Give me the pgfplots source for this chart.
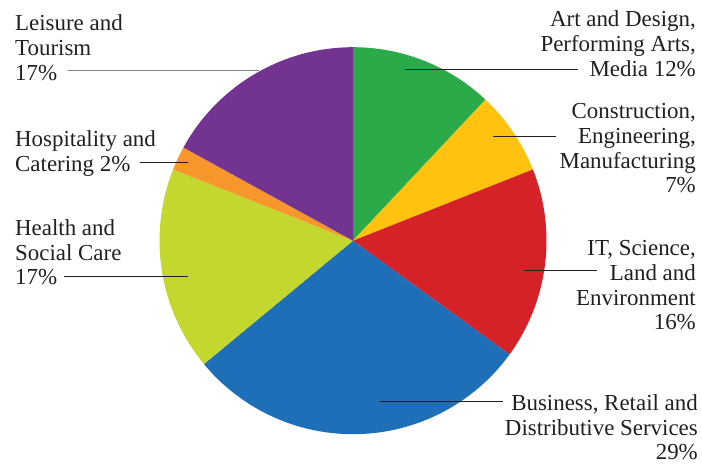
\documentclass[border=0pt]{standalone}
\usepackage{pgfplots}
\usepackage{pgfplotstable}
\usepackage{fontspec}
\setmainfont{Liberation Serif}
\pgfplotsset{compat=1.18}

\definecolor{cArt}{RGB}{43,170,74}
\definecolor{cCon}{RGB}{255,194,14}
\definecolor{cIT}{RGB}{213,34,41}
\definecolor{cBus}{RGB}{31,111,184}
\definecolor{cHea}{RGB}{195,215,46}
\definecolor{cHos}{RGB}{247,150,43}
\definecolor{cLei}{RGB}{115,51,144}
\definecolor{txt}{RGB}{35,31,32}

% share of students per sector, clockwise from 12 o'clock
\pgfplotstableread{
value color
12 cArt
7  cCon
16 cIT
29 cBus
17 cHea
2  cHos
17 cLei
}\piedata

\begin{document}
\begin{tikzpicture}
\begin{axis}[
    hide axis, scale only axis,
    width=702bp, height=465bp,
    xmin=0, xmax=702, ymin=0, ymax=465,
    clip=false,
]
\pgfplotstablegetrowsof{\piedata}
\pgfmathtruncatemacro\nrows{\pgfplotsretval-1}
\xdef\cum{90}
\pgfplotsinvokeforeach{0,...,\nrows}{
    \pgfplotstablegetelem{#1}{value}\of\piedata \let\v\pgfplotsretval
    \pgfplotstablegetelem{#1}{color}\of\piedata \let\c\pgfplotsretval
    \pgfmathsetmacro\ea{\cum-3.6*\v}
    \edef\tmp{\noexpand\fill[\c] (axis cs:353,224.3) -- ++(\cum:193.5bp)
        arc[start angle=\cum, end angle=\ea, radius=193.5bp] -- cycle;}
    \tmp
    \xdef\cum{\ea}
}

% labels: anchored at the baseline of their last line
\begin{scope}[every node/.style={inner sep=0pt, text=txt,
        font=\fontsize{23}{25}\selectfont}]
\draw[txt, line width=0.8bp] (axis cs:405,395.7) -- (axis cs:578,395.7);
\node[anchor=base east, align=right] at (axis cs:696,388.3)
    {Art and Design,\\Performing Arts,\\Media 12\%};
\draw[txt, line width=0.8bp] (axis cs:493,329) -- (axis cs:556,329);
\node[anchor=base east, align=right] at (axis cs:696,272)
    {Construction,\\Engineering,\\Manufacturing\\7\%};
\draw[txt, line width=0.8bp] (axis cs:524,194.3) -- (axis cs:597,194.3);
\node[anchor=base east, align=right] at (axis cs:696,135)
    {IT, Science,\\Land and\\Environment\\16\%};
\draw[txt, line width=0.8bp] (axis cs:380,63.3) -- (axis cs:503,63.3);
\node[anchor=base east, align=right] at (axis cs:698,5)
    {Business, Retail and\\Distributive Services\\29\%};
\draw[txt, line width=0.8bp] (axis cs:64,188.3) -- (axis cs:188,188.3);
\node[anchor=base west, align=left] at (axis cs:15,180)
    {Health and\\Social Care\\17\%};
\draw[txt, line width=0.8bp] (axis cs:140,302.3) -- (axis cs:188,302.3);
\node[anchor=base west, align=left] at (axis cs:15,293.3)
    {Hospitality and\\Catering 2\%};
\draw[gray, line width=0.8bp] (axis cs:68,394.3) -- (axis cs:259,394.3);
\node[anchor=base west, align=left] at (axis cs:15,384.3)
    {Leisure and\\Tourism\\17\%};
\end{scope}
\end{axis}
\pgfresetboundingbox
\path (current axis.south west) rectangle (current axis.north east);
\end{tikzpicture}
\end{document}
